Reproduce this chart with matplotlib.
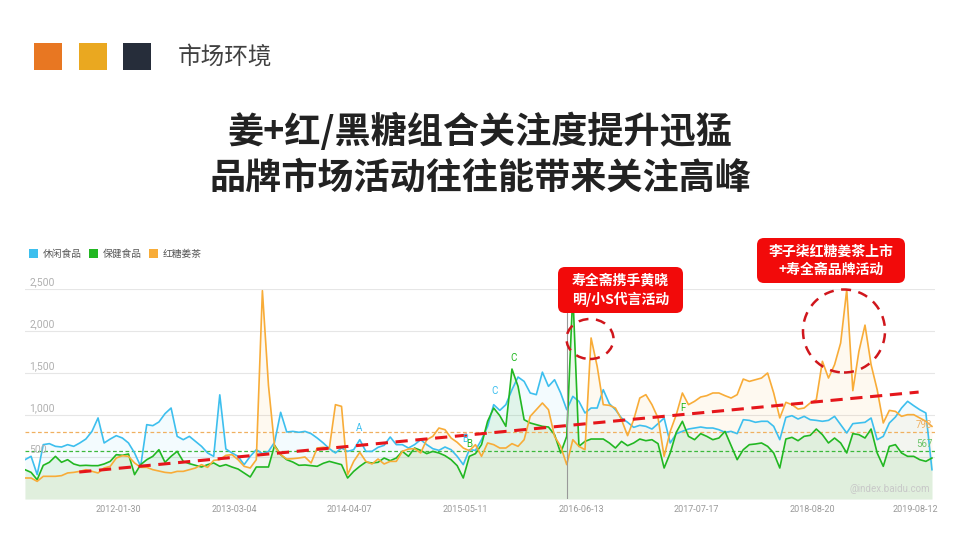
import matplotlib
matplotlib.use('Agg')
import matplotlib.pyplot as plt
from matplotlib.patches import Rectangle, FancyBboxPatch, Ellipse
import pandas as pd

plt.rcParams['font.family'] = ['Noto Sans CJK SC', 'DejaVu Sans']

######## Data (Baidu index, sampled every 3 weeks) ########
start_date = '2011-03-14'
step_days = 21

snack = [468, 508, 290, 647, 659, 627, 619, 647, 627, 667,
         714, 805, 965, 667, 714, 754, 726, 667, 548, 390,
         885, 873, 917, 1016, 1083, 746, 706, 746, 686, 627,
         548, 508, 1240, 595, 548, 508, 409, 508, 587, 540,
         567, 675, 1032, 798, 805, 794, 805, 778, 726, 667,
         599, 548, 607, 567, 587, 706, 567, 567, 615, 639,
         738, 647, 647, 607, 647, 706, 647, 599, 579, 619,
         587, 508, 409, 587, 579, 706, 865, 1123, 1055, 1123,
         1301, 1452, 1400, 1262, 1242, 1510, 1341, 1420, 1262, 1063,
         1222, 1163, 1024, 1083, 1083, 1301, 1135, 1063, 964, 913,
         853, 877, 865, 833, 897, 964, 667, 778, 805, 833,
         845, 857, 845, 845, 825, 794, 805, 778, 944, 936,
         913, 925, 925, 865, 706, 972, 992, 952, 984, 944,
         936, 925, 936, 984, 885, 786, 897, 905, 913, 964,
         706, 746, 905, 976, 1083, 1163, 1111, 1063, 1024, 349]

health = [349, 317, 230, 401, 437, 508, 437, 468, 417, 397,
          401, 397, 397, 417, 448, 528, 520, 536, 290, 409,
          468, 508, 587, 437, 508, 567, 448, 421, 401, 381,
          409, 429, 389, 409, 381, 357, 310, 262, 381, 381,
          381, 639, 528, 468, 440, 401, 405, 397, 389, 425,
          448, 429, 409, 250, 329, 389, 440, 429, 437, 488,
          456, 488, 567, 508, 607, 579, 540, 567, 548, 516,
          468, 397, 250, 508, 540, 647, 925, 1083, 992, 865,
          1547, 1341, 944, 905, 885, 865, 857, 766, 548, 746,
          2450, 627, 686, 714, 714, 714, 667, 607, 686, 635,
          667, 714, 694, 706, 659, 369, 548, 794, 925, 746,
          706, 778, 746, 706, 726, 805, 635, 468, 587, 647,
          655, 667, 627, 548, 369, 714, 734, 694, 746, 758,
          833, 766, 667, 726, 667, 548, 778, 766, 726, 833,
          548, 389, 627, 647, 548, 508, 508, 468, 448, 488]

ginger_tea = [250, 250, 210, 270, 270, 270, 278, 310, 317, 329,
              349, 329, 310, 369, 389, 488, 516, 508, 429, 377,
              377, 349, 333, 317, 310, 329, 329, 349, 369, 409,
              377, 460, 468, 520, 528, 468, 389, 369, 468, 2480,
              1350, 627, 528, 476, 480, 488, 500, 429, 607, 615,
              607, 1123, 1103, 290, 448, 556, 448, 417, 476, 417,
              448, 448, 567, 595, 599, 548, 706, 746, 845, 825,
              726, 675, 607, 575, 647, 508, 667, 647, 607, 607,
              659, 627, 706, 984, 1063, 1143, 1063, 746, 627, 409,
              706, 627, 587, 1917, 1579, 1123, 1115, 1083, 944, 754,
              944, 1202, 1242, 1123, 964, 508, 805, 1004, 1262, 1123,
              1163, 1214, 1230, 1262, 1262, 1230, 1202, 1242, 1428, 1400,
              1420, 1440, 1500, 1262, 965, 1151, 1123, 1071, 1083, 1143,
              1182, 1639, 1440, 1599, 1857, 2492, 1290, 1758, 2070, 1599,
              1301, 905, 1055, 1043, 984, 1004, 1004, 964, 925, 865]

series_names = ['休闲食品', '保健食品', '红糖姜茶']
series_colors = ['#3dbfee', '#22b722', '#f8ac38']

tick_dates = ['2012-01-30', '2013-03-04', '2014-04-07', '2015-05-11',
              '2016-06-13', '2017-07-17', '2018-08-20', '2019-08-12']
y_ticks = [500, 1000, 1500, 2000, 2500]

avg_ginger = 798
avg_health = 567

trend_dates = ['2011-09-17', '2019-08-22']
trend_values = [321, 1273]

hover_date = '2016-04-25'

# letter marks on the curves: (text, date, value, colour)
marks = [('A', '2014-05-08', 849, '#3dbfee'),
         ('B', '2015-05-10', 714, '#3dbfee'),
         ('B', '2015-05-25', 655, '#22b722'),
         ('C', '2015-08-19', 1283, '#3dbfee'),
         ('C', '2015-10-23', 1679, '#22b722'),
         ('F', '2017-05-29', 1083, '#22b722')]

callouts = ['寿全斋携手黄晓\n明/小S代言活动', '李子柒红糖姜茶上市\n+寿全斋品牌活动']

######## Figure ########
fig = plt.figure(figsize=(9.6, 5.4), dpi=100)
inch = fig.dpi_scale_trans


def px(x, y):
    # pixel (from top-left) -> inches for dpi_scale_trans
    return x / 100, (540 - y) / 100


# header squares and section name
for x0, col in [(34, '#e87722'), (79, '#eaa820'), (123, '#262d3a')]:
    fig.add_artist(Rectangle(px(x0, 70), 0.275, 0.27, transform=inch, fc=col, ec='none'))
fig.text(*px(178, 57), '市场环境', transform=inch, fontsize=17, color='#404040', va='center')

fig.text(*px(480, 132), '姜+红/黑糖组合关注度提升迅猛', transform=inch, fontsize=26,
         weight='bold', color='#222222', ha='center', va='center')
fig.text(*px(480, 178), '品牌市场活动往往能带来关注高峰', transform=inch, fontsize=26,
         weight='bold', color='#222222', ha='center', va='center')

# legend
for x0, name, col in zip([29, 89, 149], series_names, series_colors):
    fig.add_artist(Rectangle(px(x0, 258), 0.09, 0.09, transform=inch, fc=col, ec='none'))
    fig.text(*px(x0 + 14, 254), name, transform=inch, fontsize=7, color='#555555', va='center')

######## Chart ########
ax = fig.add_axes([25 / 960, 1 - 499 / 540, 910 / 960, 210 / 540])
dates = pd.date_range(start_date, periods=len(snack), freq=f'{step_days}D')
d0 = dates[0]

for vals, col, a in zip([snack, ginger_tea, health], [series_colors[0], series_colors[2], series_colors[1]],
                        [0.06, 0.07, 0.09]):
    ax.fill_between(dates, vals, 0, color=col, alpha=a, lw=0)

for vals, col in zip([snack, health, ginger_tea], series_colors):
    ax.plot(dates, vals, color=col, lw=1.2, zorder=3)

ax.axhline(avg_ginger, color='#f0b060', lw=0.9, ls=(0, (3, 2)), zorder=2)
ax.axhline(avg_health, color='#3cb83c', lw=0.9, ls=(0, (3, 2)), zorder=2)
ax.annotate(str(avg_ginger), xy=(1, avg_ginger), xycoords=('axes fraction', 'data'),
            xytext=(-2, 1.5), textcoords='offset points', ha='right', va='bottom',
            fontsize=7, color='#f0b060', family='Roboto')
ax.annotate(str(avg_health), xy=(1, avg_health), xycoords=('axes fraction', 'data'),
            xytext=(-2, 1.5), textcoords='offset points', ha='right', va='bottom',
            fontsize=7, color='#6cc46c', family='Roboto')

ax.axvline(pd.Timestamp(hover_date), color='#999999', lw=0.8, zorder=4)

ax.plot(pd.to_datetime(trend_dates), trend_values, color='#e5161b', lw=2.2,
        ls=(0, (4, 2.5)), zorder=5)

for txt, d, v, col in marks:
    ax.text(pd.Timestamp(d), v, txt, color=col, fontsize=7, family='Roboto',
            ha='center', va='center', zorder=6)

ax.set_ylim(0, 2500)
ax.set_xlim(d0, d0 + pd.Timedelta(days=149.5 * step_days))
for v in y_ticks:
    ax.axhline(v, color='#e6e6e6', lw=0.8, zorder=0)
    ax.annotate(f'{v:,}', xy=(0, v), xycoords=('axes fraction', 'data'), xytext=(3, 1.5),
                textcoords='offset points', va='bottom', fontsize=7.5, color='#b0b0b0',
                family='Roboto')
ax.set_yticks([])
ax.set_xticks(pd.to_datetime(tick_dates))
ax.set_xticklabels(tick_dates, fontsize=6.5, color='#999999', family='Roboto')
ax.tick_params(axis='x', length=0, pad=4.5)
for s in ax.spines.values():
    s.set_visible(False)

ax.text(0.995, 0.05, '@index.baidu.com', transform=ax.transAxes, ha='right', va='center',
        fontsize=7, color='#c8c8c8', family='Roboto')

######## Callouts ########
for (x0, y0, x1, y1), txt in zip([(558, 267, 683, 313), (757, 238, 905, 283)], callouts):
    fig.add_artist(FancyBboxPatch(px(x0, y1), (x1 - x0) / 100, (y1 - y0) / 100, transform=inch,
                                  boxstyle='round,pad=0,rounding_size=0.07', fc='#f20a0a', ec='none',
                                  zorder=10))
    fig.text(*px((x0 + x1) / 2, (y0 + y1) / 2), txt, transform=inch, ha='center', va='center',
             fontsize=10, color='white', weight='bold', linespacing=1.35, zorder=11)

for cx, cy, w, h in [(590, 339, 47, 40), (844, 331, 82, 83)]:
    fig.add_artist(Ellipse(px(cx, cy), w / 100, h / 100, transform=inch, fill=False,
                           ec='#d0161c', lw=1.8, ls=(0, (4, 3)), zorder=10))

fig.savefig('out.png', dpi=100)
